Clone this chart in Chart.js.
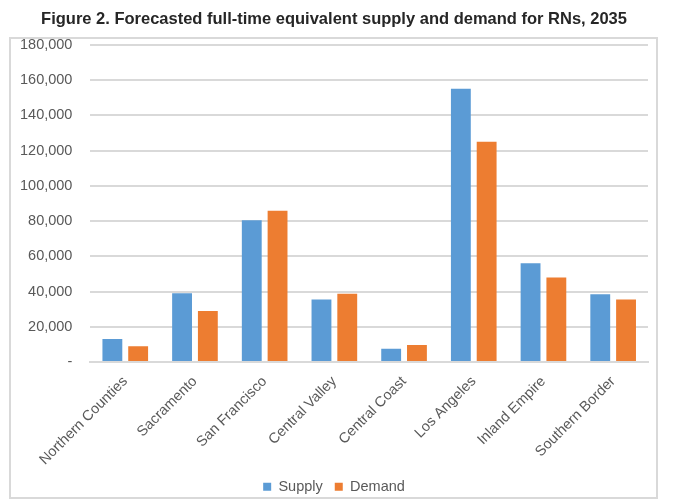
<!DOCTYPE html>
<html>
<head>
<meta charset="utf-8">
<script src="https://cdn.jsdelivr.net/npm/chart.js@4/dist/chart.umd.min.js"></script>
<style>
  html, body { margin: 0; padding: 0; background: #fff; }
  #wrap { width: 678px; height: 500px; }
</style>
</head>
<body>
<div id="wrap"><canvas id="rnChart" width="678" height="500"></canvas></div>
<script>
// regions and FTE values
const regions = ['Northern Counties', 'Sacramento', 'San Francisco', 'Central Valley',
                 'Central Coast', 'Los Angeles', 'Inland Empire', 'Southern Border'];
const supply = [13000, 39000, 80500, 35500, 7500, 155000, 56000, 38500];
const demand = [9000, 29000, 85800, 38700, 9600, 125000, 48000, 35500];
const yTicks = [0, 20000, 40000, 60000, 80000, 100000, 120000, 140000, 160000, 180000];

// light frame around the plot like in the report figure
const framePlugin = {
    id: 'frame',
    beforeDraw(chart) {
        const ctx = chart.ctx;
        ctx.save();
        ctx.strokeStyle = '#d9d9d9';
        ctx.lineWidth = 2;
        ctx.strokeRect(10, 38, 647, 460);
        ctx.restore();
    }
};

Chart.defaults.font.family = "'Liberation Sans', Arial, sans-serif";
Chart.defaults.color = '#595959';

new Chart(document.getElementById('rnChart').getContext('2d'), {
    type: 'bar',
    data: {
        labels: regions,
        datasets: [
            { label: 'Supply', data: supply, backgroundColor: '#5b9bd5',
              barPercentage: 0.77, categoryPercentage: 0.74 },
            { label: 'Demand', data: demand, backgroundColor: '#ed7d31',
              barPercentage: 0.77, categoryPercentage: 0.74 }
        ]
    },
    options: {
        responsive: false,
        animation: false,
        layout: { padding: { left: 20, right: 30, top: 0, bottom: -4 } },
        plugins: {
            title: {
                display: true,
                text: 'Figure 2. Forecasted full-time equivalent supply and demand for RNs, 2035',
                color: '#262626',
                font: { size: 16.5, weight: 'bold' },
                padding: { top: 10, bottom: 15 }
            },
            legend: {
                position: 'bottom',
                labels: { boxWidth: 8, boxHeight: 8, padding: 12, font: { size: 14.5 } }
            },
            tooltip: { enabled: false }
        },
        scales: {
            y: {
                min: 0,
                max: 180000,
                afterBuildTicks: axis => { axis.ticks = yTicks.map(v => ({ value: v })); },
                // labels hang into the left padding, keeps the title centred like the original
                afterFit: axis => { axis.width -= 18; },
                grid: { color: '#d9d9d9', lineWidth: 2, drawTicks: false },
                border: { display: false },
                ticks: {
                    padding: 18,
                    font: { size: 14.5 },
                    callback: v => v === 0 ? '-' : v.toLocaleString('en-US')
                }
            },
            x: {
                grid: { display: false, drawTicks: false },
                border: { display: true, color: '#d9d9d9', width: 2 },
                // let the slanted labels take a bit less room than Chart.js reserves
                afterFit: axis => { axis.height -= 12; },
                ticks: { minRotation: 45, maxRotation: 45, padding: 11, font: { size: 14.5 } }
            }
        }
    },
    plugins: [framePlugin]
});
</script>
</body>
</html>
